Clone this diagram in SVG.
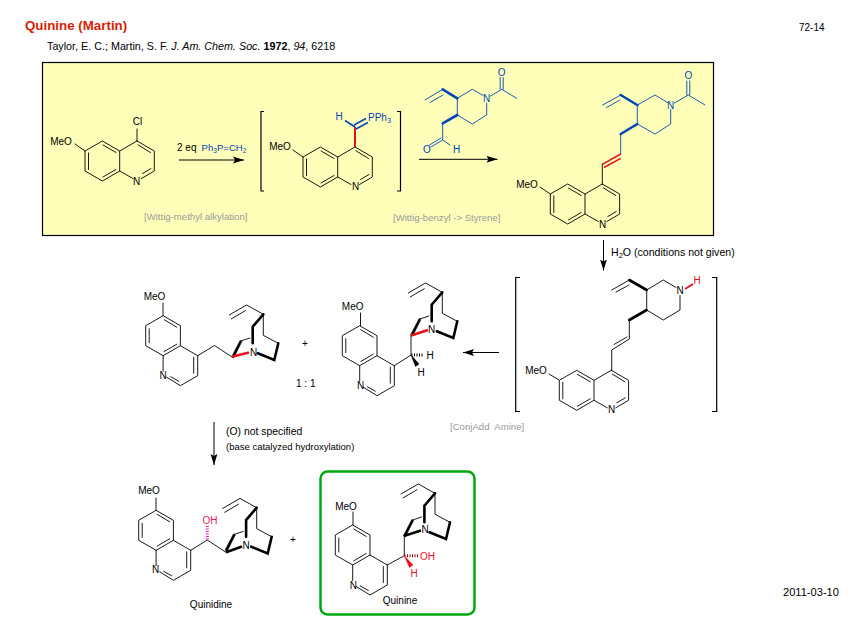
<svg xmlns="http://www.w3.org/2000/svg" xmlns:xlink="http://www.w3.org/1999/xlink" width="854" height="637" viewBox="0 0 854 637">
<style>
text{font-family:"Liberation Sans",Arial,sans-serif;font-size:10px;fill:#000}
.m{text-anchor:middle;dominant-baseline:central}
.l{fill:none;stroke:currentColor;stroke-width:.9;stroke-linecap:round}
.w{fill:none;stroke:currentColor;stroke-width:2.6;stroke-linecap:round}
.t{fill:#d81e05;font-size:13.33px;font-weight:bold}
.g{fill:#999;font-size:9.6px}
.bl{fill:#0046b4}
.r{fill:#e8101c}
.br{fill:none;stroke:#000;stroke-width:1.2}
.ar{fill:none;stroke:#000;stroke-width:1}
.s{font-size:10.6px}
</style>
<defs>
<marker id="ah" markerUnits="userSpaceOnUse" viewBox="0 0 11 8" refX="11" refY="4" markerWidth="11" markerHeight="8" orient="auto"><path d="M0 .6 11 4 0 7.400 2 4Z" fill="#000"/></marker>
<g id="qa" class="l"><path d="M0 0 17.3 10V30L4.500 37.500M-4 37.500-17.300 30V10L0 0M-17.300 10-34.600 0-52 10V30L-34.600 40-17.300 30"/><path d="M1 3.800 13.500 11.500M14 27.500 5.500 32.500M-34 4-21 11.500M-48.500 12V28.500M-34 36-21 28.500"/></g>
<g id="qb" class="l"><path d="M0 0-17.300-10-34.600 0-52-10V-30L-34.600-40-17.300-30V-10M-34.600 0V15.500M-31 21.500-17.300 30 0 20V0"/><path d="M-4 1.500V17.500M-19 25.500-27 21M-33.500-36-21-28.500M-48.500-27V-13M-33.500-4.200-21-11.500"/></g>
<g id="cage"><path class="l" d="M-34 .7-16.700-9.300 0 0V21L15 29M-32 4.600-18-3.600M-22.300 26.700-13.500 23.700"/><path class="w" d="M0 0-10.600 12.400V29M15 29 11 45.700-5.500 39"/><path d="M-31.600 42.400-23.200 26.200-21.400 27.200-29.600 43.600Z" fill="currentColor" stroke="currentColor" stroke-width=".6"/></g>
</defs>
<rect width="854" height="637" fill="#fff"/>
<text id="title" class="t" x="25" y="30">Quinine (Martin)</text>
<text id="cite" x="47" y="49.500" style="font-size:10.75px">Taylor, E. C.; Martin, S. F. <tspan font-style="italic">J. Am. Chem. Soc.</tspan> <tspan font-weight="bold">1972</tspan>, <tspan font-style="italic">94</tspan>, 6218</text>
<text x="799" y="31">72-14</text>
<text x="783" y="596" style="font-size:11.1px">2011-03-10</text>
<rect id="panel" x="42.500" y="62.500" width="671" height="173" fill="#ffffb9" stroke="#000" stroke-width="1.2"/>
<g id="chloroquinoline" color="#000">
<use xlink:href="#qa" href="#qa" x="137" y="141"/>
<path class="l" d="M137 141V129M85 151 75 144"/>
<text class="m" x="137.500" y="121">Cl</text><text class="m" x="61" y="141">MeO</text><text class="m" x="136.500" y="181">N</text>
</g>
<g id="ylide" color="#000">
<use xlink:href="#qa" href="#qa" x="355" y="147"/>
<path class="l" d="M303 157 293 150"/>
<path d="M355 147V127" fill="none" stroke="#e8101c" stroke-width="2"/>
<path d="M355 127 345 120.500M354 125 366 118.500M356 129 368 122.500" fill="none" stroke="#0046b4" stroke-width="1.500"/>
<text class="m" x="280" y="146">MeO</text><text class="m" x="355.500" y="186.500">N</text>
<text class="m bl" x="339" y="116">H</text><text class="bl" x="368" y="121">PPh<tspan font-size="7.500" dy="2">3</tspan></text>
</g>
<g id="aldehyde" color="#0046b4">
<path class="l" d="M425 100 442.700 89.300M430 102.500 443 95M457.300 98.300 472.300 89.300 483 95.500M486.700 103V115L472.300 124 457.300 115V98.300M490.500 96 501.700 89.300 516.700 98.300M500.200 89.300V77.500M503.200 89.300V77.500M442.700 123.300V140L431 147M441 138 429.500 145M442.700 140 450 145"/>
<path class="w" d="M442.700 89.300 457.300 98.300M457.300 115 442.700 123.300"/>
<text class="m bl" x="486.700" y="98.300">N</text><text class="m bl" x="501.700" y="72.500">O</text><text class="m bl" x="427" y="149.500">O</text><text class="m bl" x="456.500" y="149">H</text>
</g>
<g id="styrene" color="#0046b4">
<use xlink:href="#qa" href="#qa" x="602.300" y="184" color="#000"/>
<path class="l" d="M602.700 105 620.700 95M606.500 107.500 620 100M637.300 105 655 95 667.500 102.500M670.700 109.500V124L655 134 637.300 124V105M674.500 103 688.300 95 705 105M686.800 95V81M689.800 95V81M620.700 134V154"/>
<path class="w" d="M620.700 95 637.300 105M637.300 124 620.700 134"/>
<path d="M620.700 154 602.300 164.300M620.700 158.300 604 167.500" fill="none" stroke="#e8101c" stroke-width="1.500"/>
<path class="l" color="#000" d="M602.300 164.300V184M550.300 194 540 187"/>
<text class="m bl" x="670.700" y="105">N</text><text class="m bl" x="688.300" y="75">O</text>
<text class="m" x="527" y="184">MeO</text><text class="m" x="602.500" y="224">N</text>
</g>
<g id="labels-top">
<text x="177" y="151">2 eq</text><text class="bl" x="201.500" y="151" style="font-size:9.6px">Ph<tspan font-size="6.500" dy="2">3</tspan><tspan dy="-2">P=CH</tspan><tspan font-size="6.500" dy="2">2</tspan></text>
<text class="g" x="144" y="220">[Wittig-methyl alkylation]</text>
<text class="g" x="393" y="221">[Wittig-benzyl -&gt; Styrene]</text>
<text class="s" x="611" y="256">H<tspan font-size="7.500" dy="2">2</tspan><tspan dy="-2">O (conditions not given)</tspan></text>
</g>
<g id="aminodiene" color="#000">
<use xlink:href="#qa" href="#qa" x="611.300" y="370.300"/>
<path class="l" d="M611.700 290 629.300 280M616 292 629 285M646.700 290 663.300 280 676 287.500M680 295.500V310L663.300 320 646.700 310V290M629.300 320V339L611.700 350V370.300M627 337 614 344.500"/>
<path class="w" d="M629.300 280 646.700 290M646.700 310 629.300 320"/>
<path d="M685 289 693 284" stroke="#e8101c" stroke-width="1.800"/>
<path class="l" d="M559 380 549 374"/>
<text class="m" x="680" y="290">N</text><text class="m r" x="697" y="280">H</text>
<text class="m" x="536" y="370">MeO</text><text class="m" x="611.500" y="409">N</text>
</g>
<g id="deoxy-a" color="#000">
<use xlink:href="#qb" href="#qb" x="197.700" y="355.700"/>
<path class="l" d="M163 315.700V303M197.700 355.700 214.500 345.500 231.600 356.700"/>
<use xlink:href="#cage" href="#cage" x="263.300" y="314.300"/>
<path d="M232 356.700 249 352.500" stroke="#e8101c" stroke-width="2.500" fill="none"/>
<text class="m" x="154.500" y="296">MeO</text><text class="m" x="163" y="375.500">N</text><text class="m" x="253.500" y="352">N</text>
</g>
<g id="deoxy-b" color="#000">
<use xlink:href="#qb" href="#qb" x="394.300" y="365.700"/>
<path class="l" d="M360.500 325.700V313M394.300 365.700 411 355V335"/>
<use xlink:href="#cage" href="#cage" x="442.300" y="292.300"/>
<path d="M411 335.500 428 330" stroke="#e8101c" stroke-width="2.500" fill="none"/>
<path d="M411.500 355H424" stroke="#000" stroke-width="3" stroke-dasharray="1 1.500" fill="none"/>
<path d="M411 355 415.500 366.500 419 364Z" fill="#000" stroke="#000" stroke-width=".5"/>
<text class="m" x="352.700" y="306">MeO</text><text class="m" x="360.700" y="385">N</text><text class="m" x="431.700" y="329.500">N</text>
<text class="m" x="430" y="355">H</text><text class="m" x="421" y="372">H</text>
</g>
<g id="quinidine" color="#000">
<use xlink:href="#qb" href="#qb" x="190.700" y="550.300"/>
<path class="l" d="M156 510.300V498M190.700 550.300 207.300 540 226 552.300"/>
<use xlink:href="#cage" href="#cage" x="256.700" y="507.700"/>
<path d="M226 552.300 242 546.500" stroke="#000" stroke-width="2.500" fill="none"/>
<path d="M207.300 539.500V526" stroke="#e81cc0" stroke-width="3" stroke-dasharray="1 1.500" fill="none"/>
<text class="m" x="149" y="490">MeO</text><text class="m" x="155.700" y="569.500">N</text><text class="m" x="246" y="545">N</text>
<text class="m" x="210" y="520" style="fill:#e8185a">OH</text>
<text class="m" x="211" y="604">Quinidine</text>
</g>
<g id="quinine" color="#000">
<rect x="320.500" y="471.500" width="154" height="143" rx="7" fill="none" stroke="#00a810" stroke-width="2.500"/>
<use xlink:href="#qb" href="#qb" x="387.300" y="565"/>
<path class="l" d="M353 525V512M387.300 565 404.300 555.700V535.700"/>
<use xlink:href="#cage" href="#cage" x="435" y="493.300"/>
<path d="M404.500 535.700 421 530.500" stroke="#000" stroke-width="2.500" fill="none"/>
<path d="M404.500 555.700H418" stroke="#900" stroke-width="3" stroke-dasharray="1 1.500" fill="none"/>
<path d="M404.300 555.700 409.500 567.500 413 565Z" fill="#e8101c" stroke="#e8101c" stroke-width=".5"/>
<text class="m" x="346" y="506">MeO</text><text class="m" x="353.300" y="585">N</text><text class="m" x="425" y="529">N</text>
<text class="m r" x="427.500" y="556">OH</text><text class="m r" x="414" y="573.500">H</text>
<text class="m" x="400" y="600">Quinine</text>
</g>
<g id="connectors">
<path class="ar" marker-end="url(#ah)" d="M179 160H244"/>
<path class="ar" marker-end="url(#ah)" d="M419 159.300H497.500"/>
<path class="ar" marker-end="url(#ah)" d="M603.500 240V270.500"/>
<path class="ar" marker-end="url(#ah)" d="M499 352.500H463"/>
<path class="ar" marker-end="url(#ah)" d="M214 422V465"/>
</g>
<g id="brackets">
<path class="br" d="M264 111.500H261V191H264M397 111.500H400.500V191H397M520 277.500H515.700V411.500H520M712 277.500H716.700V411.500H712"/>
</g>
<g id="labels-bottom">
<text class="m" x="305" y="343">+</text>
<text class="m" x="293" y="539">+</text>
<text x="296" y="387">1 : 1</text>
<text class="g" x="450" y="430" xml:space="preserve">[ConjAdd  Amine]</text>
<text x="226" y="435" style="font-size:10.4px">(O) not specified</text>
<text x="226" y="450" style="font-size:9.5px">(base catalyzed hydroxylation)</text>
</g>
</svg>
